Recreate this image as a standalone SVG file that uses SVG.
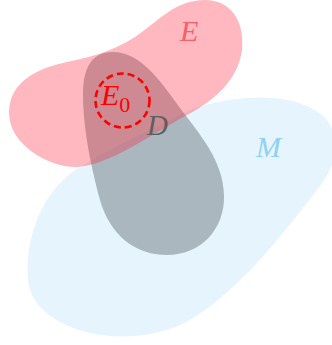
<svg xmlns="http://www.w3.org/2000/svg" width="332" height="345" viewBox="0 0 332 345">
<style>
.lbl{font-family:"Liberation Serif","DejaVu Serif",serif;font-style:italic;}
</style>
<rect width="332" height="345" fill="#ffffff"/>
<g id="M">
<path d="M 28,280 C 25,240 40,195 75,170 C 110,148 150,130 190,110 C 230,95 292,90 322,115 C 345,137 337,165 317,190 C 282,235 240,290 190,320 C 160,337 120,340 90,333 C 55,325 30,305 28,280 Z" fill="#e6f4fd"/>
<text class="lbl" x="256" y="157" font-size="30" fill="#8fd0f8">M</text>
</g>
<g id="D">
<path d="M 113,52 C 90,52 83,70 83,95 C 83,130 92,170 100,200 C 110,235 135,255 167,255 C 200,255 225,230 224,195 C 223,160 200,135 180,108 C 160,80 140,52 113,52 Z" fill="#6d7a7f" fill-opacity="0.5"/>
</g>
<g id="E">
<path d="M 9,113 C 9,80 40,68 67,62 C 95,56 115,50 135,37 C 160,20 175,0 205,0 C 230,0 245,20 242,50 C 238,80 215,100 187,115 C 150,135 110,165 77,167 C 50,168 9,145 9,113 Z" fill="#ff1e34" fill-opacity="0.315"/>
<text class="lbl" x="180" y="41" font-size="30" fill="#f5606b">E</text>
</g>
<text class="lbl" x="147" y="135" font-size="29" fill="#5e5e5e">D</text>
<g id="E0">
<circle cx="122.5" cy="100.5" r="27" fill="none" stroke="#ff0000" stroke-width="2.6" stroke-dasharray="7,4"/>
<text class="lbl" x="101" y="105" font-size="30" fill="#ff0000">E<tspan font-style="normal" font-size="22" dy="7">0</tspan></text>
</g>
</svg>
